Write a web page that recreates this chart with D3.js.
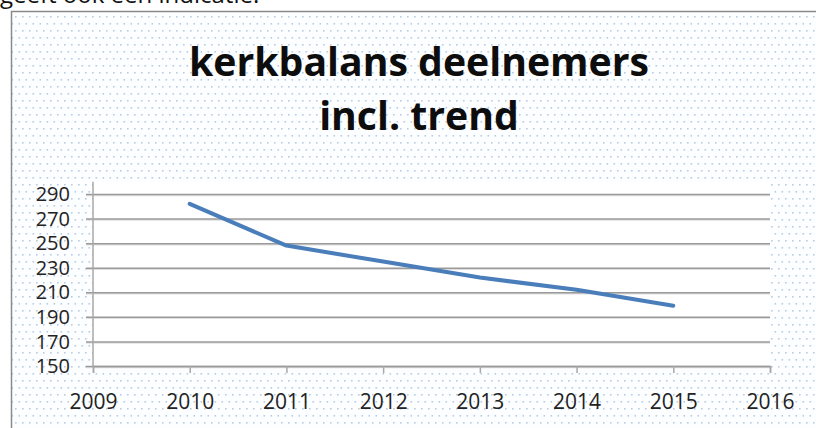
<!DOCTYPE html>
<html>
<head>
<meta charset="utf-8">
<script src="https://cdn.jsdelivr.net/npm/d3@7"></script>
<style>
    body { margin: 0; background: #fff; }
    svg { display: block; }
    .tick-label { font-family: "Open Sans", sans-serif; fill: #222; }
</style>
</head>
<body>
<svg id="chart" width="816" height="428"></svg>
<script>
const jaren = [2010, 2011, 2012, 2013, 2014, 2015]
const deelnemers = [282, 248, 235, 222, 212, 199]
const xTickJaren = [2009, 2010, 2011, 2012, 2013, 2014, 2015, 2016]
const yTickWaarden = [150, 170, 190, 210, 230, 250, 270, 290]
const titelRegels = ["kerkbalans deelnemers", "incl. trend"]
const introTekst = "geeft ook een indicatie."

const svg = d3.select("#chart")

// stippenpatroon van de grafiekachtergrond
const defs = svg.append("defs")
const pat = defs.append("pattern")
    .attr("id", "dots")
    .attr("patternUnits", "userSpaceOnUse")
    .attr("width", 7)
    .attr("height", 14)
pat.append("rect").attr("width", 7).attr("height", 14).attr("fill", "#fdfeff")
pat.append("rect").attr("x", 1).attr("y", 2).attr("width", 1.6).attr("height", 1.6).attr("fill", "#b8cce6")
pat.append("rect").attr("x", 4.5).attr("y", 9).attr("width", 1.6).attr("height", 1.6).attr("fill", "#b8cce6")

// stukje tekst boven de grafiek (in het origineel afgesneden)
svg.append("text")
    .attr("x", 0)
    .attr("y", 3)
    .style("font-family", "'Open Sans', sans-serif")
    .style("font-size", "24px")
    .attr("fill", "#111")
    .text(introTekst)

// kader van de grafiek
svg.append("rect")
    .attr("x", 12.5).attr("y", 12.5)
    .attr("width", 900).attr("height", 500)
    .attr("fill", "none")
    .attr("stroke", "#d0d0d0")
    .attr("stroke-width", 2)
svg.append("rect")
    .attr("x", 11.5).attr("y", 11.5)
    .attr("width", 900).attr("height", 500)
    .attr("fill", "url(#dots)")
    .attr("stroke", "#8a8a8a")
    .attr("stroke-width", 1.5)

// titel
const titel = svg.append("g")
const titelNodes = titelRegels.map((regel, i) =>
    titel.append("text")
        .attr("x", 419)
        .attr("y", 76 + i * 54)
        .attr("text-anchor", "middle")
        .style("font-family", "'Open Sans', sans-serif")
        .style("font-weight", 700)
        .style("font-size", "40px")
        .attr("fill", "#0d0d0d")
        .text(regel)
)
const gemeten = titelNodes[0].node().getComputedTextLength()
const titelSize = 40 * 460 / gemeten
titelNodes.forEach(t => t.style("font-size", titelSize + "px"))

// schalen
const x = d3.scaleLinear().domain([2009, 2016]).range([93, 770])
const y = d3.scaleLinear().domain([150, 300]).range([366, 181.7])

// plotgebied
svg.append("rect")
    .attr("x", x(2009)).attr("y", y(300))
    .attr("width", x(2016) - x(2009))
    .attr("height", y(150) - y(300))
    .attr("fill", "#fff")

// schaduw onder de rasterlijnen
svg.append("g")
    .selectAll("line")
    .data(yTickWaarden)
    .join("line")
    .attr("x1", x(2009) - 7).attr("x2", x(2016))
    .attr("y1", d => y(d) + 1.5).attr("y2", d => y(d) + 1.5)
    .attr("stroke", "#e0e0e0")
    .attr("stroke-width", 1.5)

// rasterlijnen via de y-as
const yAxis = d3.axisLeft(y)
    .tickValues(yTickWaarden)
    .tickSize(-(x(2016) - x(2009) + 7))
    .tickFormat(d3.format("d"))

const yG = svg.append("g")
    .attr("transform", `translate(${x(2009) - 7},0)`)
    .call(yAxis)
yG.select(".domain").remove()
yG.selectAll(".tick line")
    .attr("stroke", "#9a9a9a")
    .attr("stroke-width", 1.5)
yG.selectAll(".tick text").remove()

svg.append("g")
    .selectAll("text")
    .data(yTickWaarden)
    .join("text")
    .attr("class", "tick-label")
    .attr("x", 70)
    .attr("y", d => y(d))
    .attr("dy", "0.36em")
    .attr("text-anchor", "end")
    .style("font-size", "20px")
    .text(d => d)

// y-as lijn
svg.append("line")
    .attr("x1", x(2009)).attr("x2", x(2009))
    .attr("y1", y(300)).attr("y2", y(150))
    .attr("stroke", "#a8a8a8")
    .attr("stroke-width", 1.5)

// x-as
const xAxis = d3.axisBottom(x)
    .tickValues(xTickJaren)
    .tickSize(7)
    .tickFormat(d3.format("d"))
const xG = svg.append("g")
    .attr("transform", `translate(0,${y(150)})`)
    .call(xAxis)
xG.select(".domain")
    .attr("stroke", "#9a9a9a")
    .attr("stroke-width", 1.5)
xG.selectAll(".tick line")
    .attr("stroke", "#a8a8a8")
    .attr("stroke-width", 1.5)
xG.selectAll(".tick text")
    .attr("class", "tick-label")
    .attr("y", 0)
    .attr("dy", 0)
    .attr("transform", "translate(0,43)")
    .style("font-size", "21px")

// lijn met deelnemers
const lijn = d3.line()
    .x((d, i) => x(jaren[i]))
    .y(d => y(d))

svg.append("path")
    .datum(deelnemers)
    .attr("d", lijn)
    .attr("fill", "none")
    .attr("stroke", "#4a7ebb")
    .attr("stroke-width", 4)
    .attr("stroke-linejoin", "round")
    .attr("stroke-linecap", "round")
</script>
</body>
</html>
